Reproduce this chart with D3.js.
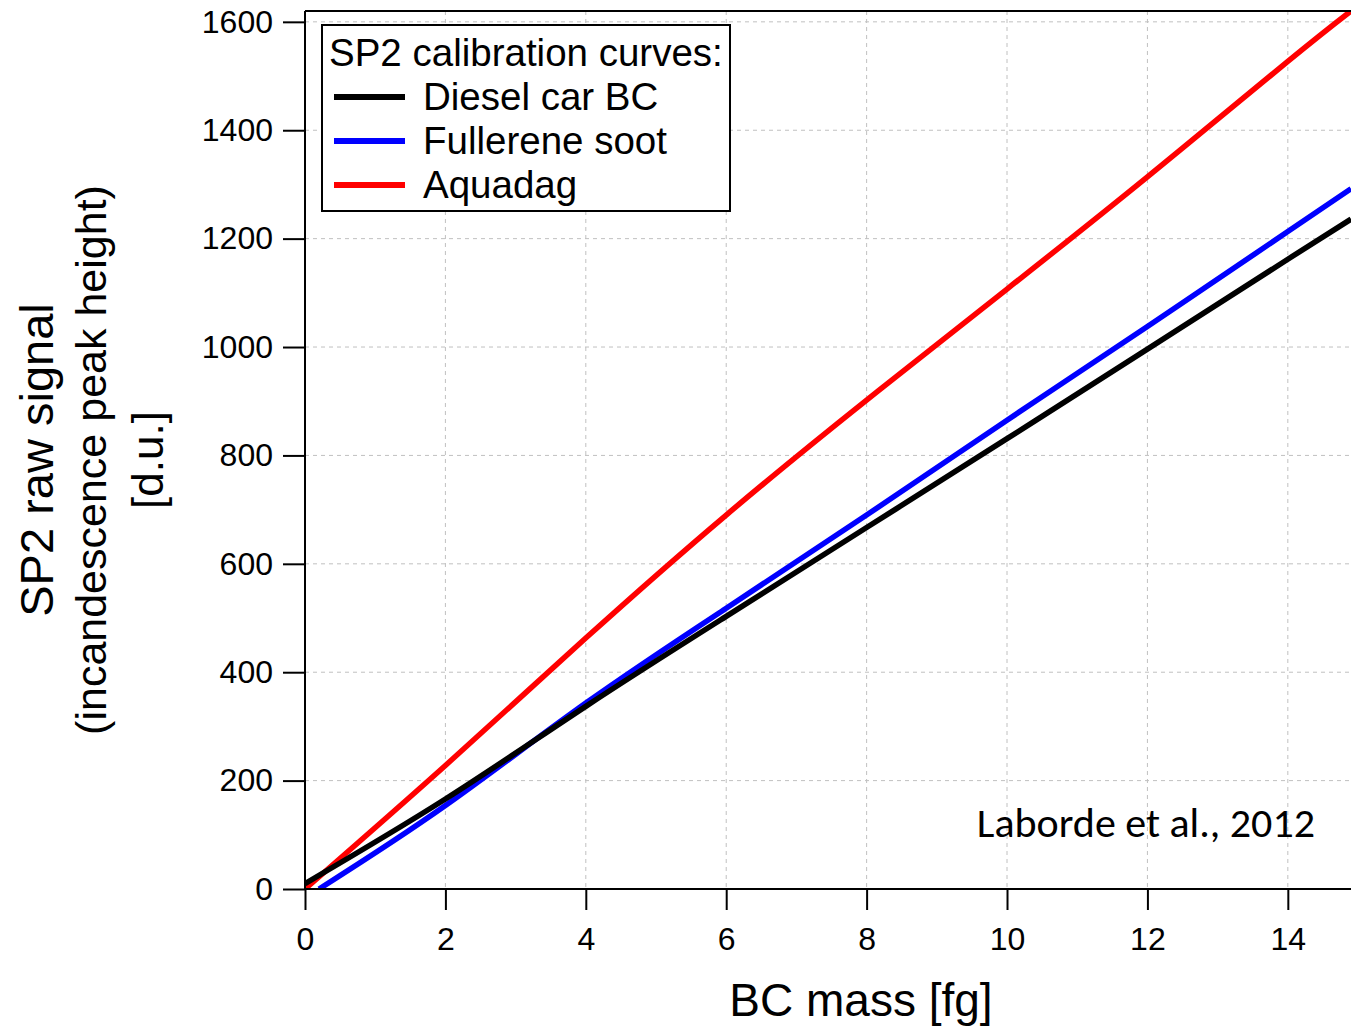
<!DOCTYPE html>
<html>
<head>
<meta charset="utf-8">
<script src="https://cdn.jsdelivr.net/npm/d3@7"></script>
<style>
  html, body { margin: 0; padding: 0; background: #fff; }
  svg { display: block; }
</style>
</head>
<body>
<svg id="chart" width="1351" height="1026"></svg>
<script>
// ---- data ----
const dieselMass    = [0, 2, 4, 6, 8, 10, 12, 14, 14.9];
const dieselSignal  = [10, 166, 337, 503, 667, 831, 996, 1162, 1236];
const fullereneMass   = [0.2, 2, 4, 6, 8, 10, 12, 14, 14.9];
const fullereneSignal = [0, 154, 343, 518, 690, 865, 1038, 1213, 1292];
const aquadagMass   = [0, 2, 4, 6, 8, 10, 12, 14, 14.9];
const aquadagSignal = [0, 228, 463, 690, 902, 1107, 1314, 1527, 1620];
const xTicks = [0, 2, 4, 6, 8, 10, 12, 14];
const yTicks = [0, 200, 400, 600, 800, 1000, 1200, 1400, 1600];
const seriesNames = ["Diesel car BC", "Fullerene soot", "Aquadag"];
const seriesColors = ["#000000", "#0000ff", "#ff0000"];

const series = [
  {name: seriesNames[0], color: seriesColors[0], pts: dieselMass.map((m, i) => [m, dieselSignal[i]])},
  {name: seriesNames[1], color: seriesColors[1], pts: fullereneMass.map((m, i) => [m, fullereneSignal[i]])},
  {name: seriesNames[2], color: seriesColors[2], pts: aquadagMass.map((m, i) => [m, aquadagSignal[i]])}
];

const svg = d3.select("#chart");
const font = "'Liberation Sans', Arial, sans-serif";
const L = 305, R = 1351, T = 11, B = 889;

const x = d3.scaleLinear().domain([0, 14.9]).range([L, R]);
const y = d3.scaleLinear().domain([0, 1620]).range([B, T]);

// grid
const grid = svg.append("g");
grid.selectAll("line.gx").data(xTicks.filter(d => d > 0)).join("line")
  .attr("x1", d => x(d)).attr("x2", d => x(d)).attr("y1", T).attr("y2", B)
  .attr("stroke", "#c0c0c0").attr("stroke-width", 1).attr("stroke-dasharray", "4,4");
grid.selectAll("line.gy").data(yTicks.filter(d => d > 0)).join("line")
  .attr("x1", L).attr("x2", R).attr("y1", d => y(d)).attr("y2", d => y(d))
  .attr("stroke", "#c0c0c0").attr("stroke-width", 1).attr("stroke-dasharray", "4,4");

// clip
svg.append("defs").append("clipPath").attr("id", "clip")
  .append("rect").attr("x", L).attr("y", T).attr("width", R - L).attr("height", B - T);

// lines
const line = d3.line().x(d => x(d[0])).y(d => y(d[1])).curve(d3.curveNatural);
const drawOrder = [2, 1, 0];
svg.append("g").attr("clip-path", "url(#clip)")
  .selectAll("path").data(drawOrder.map(i => series[i])).join("path")
  .attr("d", d => line(d.pts))
  .attr("fill", "none").attr("stroke", d => d.color).attr("stroke-width", 5.5)
  .attr("stroke-linejoin", "round");

// axes
const xAxis = d3.axisBottom(x).tickValues(xTicks).tickSize(21).tickPadding(17).tickFormat(d3.format("d"));
const gx = svg.append("g").attr("transform", `translate(0,${B})`).call(xAxis);
gx.select(".domain").attr("stroke-width", 2).attr("d", `M${L},0H${R}`);
gx.selectAll(".tick line").attr("stroke-width", 2);
gx.selectAll(".tick text").attr("font-family", font).attr("font-size", 32).attr("fill", "#000");

const yAxis = d3.axisLeft(y).tickValues(yTicks).tickSize(22).tickPadding(10).tickFormat(d3.format("d"));
const gy = svg.append("g").attr("transform", `translate(${L},0)`).call(yAxis);
gy.select(".domain").attr("stroke-width", 2).attr("d", `M0,${T}V${B}`);
gy.selectAll(".tick line").attr("stroke-width", 2);
gy.selectAll(".tick text").attr("font-family", font).attr("font-size", 32).attr("fill", "#000");

// top frame
svg.append("line").attr("x1", L).attr("x2", R).attr("y1", T).attr("y2", T)
  .attr("stroke", "#000").attr("stroke-width", 2);

// axis titles
svg.append("text").attr("x", 861).attr("y", 1016).attr("text-anchor", "middle")
  .attr("font-family", font).attr("font-size", 46).text("BC mass [fg]");

const yt = svg.append("g").attr("transform", "translate(0,460) rotate(-90)");
yt.append("text").attr("x", 0).attr("y", 53).attr("text-anchor", "middle")
  .attr("font-family", font).attr("font-size", 47).text("SP2 raw signal");
yt.append("text").attr("x", 0).attr("y", 106).attr("text-anchor", "middle")
  .attr("font-family", font).attr("font-size", 43).text("(incandescence peak height)");
yt.append("text").attr("x", 0).attr("y", 163).attr("text-anchor", "middle")
  .attr("font-family", font).attr("font-size", 44).text("[d.u.]");

// legend
const lg = svg.append("g");
lg.append("rect").attr("x", 322).attr("y", 25).attr("width", 408).attr("height", 186)
  .attr("fill", "#fff").attr("stroke", "#000").attr("stroke-width", 2);
lg.append("text").attr("x", 329).attr("y", 66).attr("font-family", font).attr("font-size", 38.5)
  .text("SP2 calibration curves:");
series.forEach((s, i) => {
  const cy = 97 + i * 44;
  lg.append("line").attr("x1", 334).attr("x2", 405).attr("y1", cy).attr("y2", cy)
    .attr("stroke", s.color).attr("stroke-width", 6);
  lg.append("text").attr("x", 423).attr("y", cy + 13).attr("font-family", font).attr("font-size", 38.5)
    .text(s.name);
});

// citation
svg.append("text").attr("x", 1315).attr("y", 837).attr("text-anchor", "end")
  .attr("font-family", "Carlito, Lato, 'Open Sans', sans-serif").attr("font-size", 42)
  .text("Laborde et al., 2012");
</script>
</body>
</html>
